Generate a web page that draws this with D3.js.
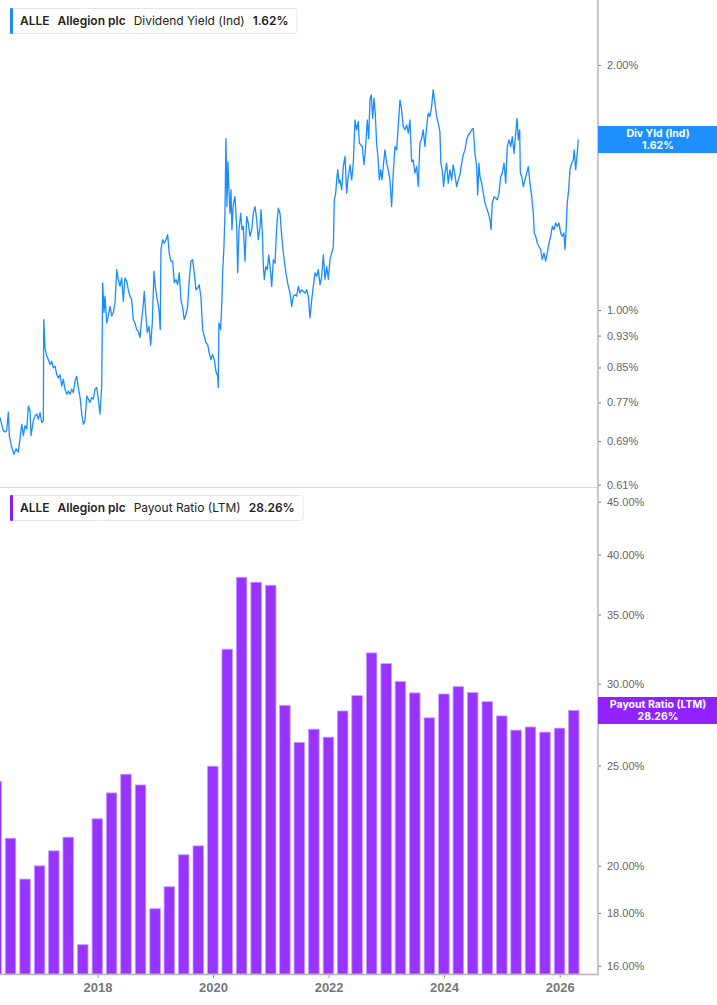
<!DOCTYPE html>
<html>
<head>
<meta charset="utf-8">
<script src="https://cdnjs.cloudflare.com/ajax/libs/d3/7.8.5/d3.min.js"></script>
<style>
  body { margin: 0; background: #fff; }
  svg { display: block; font-family: Inter, "Noto Sans", sans-serif; }
</style>
</head>
<body>
<svg id="chart"></svg>
<script>
// Dividend yield (Ind), % -- dates as decimal years
const yldYears = [
  2016.313, 2016.342, 2016.370, 2016.400, 2016.429, 2016.457, 2016.474, 2016.515, 2016.555, 2016.590,
  2016.630, 2016.659, 2016.689, 2016.716, 2016.746, 2016.775, 2016.803, 2016.832, 2016.850, 2016.889,
  2016.919, 2016.948, 2016.976, 2017.005, 2017.035, 2017.062, 2017.069, 2017.092, 2017.121, 2017.149,
  2017.178, 2017.208, 2017.235, 2017.265, 2017.294, 2017.322, 2017.351, 2017.381, 2017.408, 2017.438,
  2017.467, 2017.495, 2017.524, 2017.554, 2017.582, 2017.611, 2017.640, 2017.668, 2017.698, 2017.727,
  2017.755, 2017.784, 2017.814, 2017.841, 2017.871, 2017.900, 2017.928, 2017.957, 2017.987, 2018.014,
  2018.044, 2018.073, 2018.090, 2018.113, 2018.130, 2018.160, 2018.187, 2018.217, 2018.246, 2018.274,
  2018.303, 2018.333, 2018.360, 2018.390, 2018.419, 2018.447, 2018.476, 2018.506, 2018.533, 2018.563,
  2018.592, 2018.620, 2018.649, 2018.679, 2018.706, 2018.736, 2018.765, 2018.793, 2018.810, 2018.835,
  2018.862, 2018.892, 2018.921, 2018.949, 2018.978, 2019.008, 2019.035, 2019.065, 2019.087, 2019.099,
  2019.129, 2019.157, 2019.186, 2019.215, 2019.243, 2019.272, 2019.302, 2019.330, 2019.359, 2019.388,
  2019.416, 2019.445, 2019.475, 2019.503, 2019.532, 2019.561, 2019.589, 2019.619, 2019.648, 2019.676,
  2019.705, 2019.735, 2019.762, 2019.792, 2019.821, 2019.849, 2019.878, 2019.908, 2019.935, 2019.965,
  2019.994, 2020.022, 2020.051, 2020.081, 2020.091, 2020.103, 2020.133, 2020.155, 2020.167, 2020.190,
  2020.207, 2020.224, 2020.242, 2020.259, 2020.276, 2020.294, 2020.311, 2020.328, 2020.351, 2020.380,
  2020.410, 2020.427, 2020.449, 2020.479, 2020.501, 2020.524, 2020.553, 2020.583, 2020.610, 2020.640,
  2020.669, 2020.697, 2020.726, 2020.756, 2020.783, 2020.813, 2020.830, 2020.853, 2020.870, 2020.887,
  2020.911, 2020.939, 2020.963, 2020.986, 2021.015, 2021.043, 2021.072, 2021.102, 2021.129, 2021.159,
  2021.188, 2021.216, 2021.245, 2021.275, 2021.303, 2021.332, 2021.361, 2021.389, 2021.419, 2021.448,
  2021.476, 2021.505, 2021.534, 2021.562, 2021.591, 2021.621, 2021.649, 2021.678, 2021.708, 2021.735,
  2021.765, 2021.794, 2021.822, 2021.851, 2021.881, 2021.909, 2021.938, 2021.967, 2021.995, 2022.024,
  2022.054, 2022.082, 2022.099, 2022.123, 2022.140, 2022.158, 2022.180, 2022.197, 2022.227, 2022.255,
  2022.284, 2022.313, 2022.341, 2022.371, 2022.400, 2022.428, 2022.457, 2022.486, 2022.514, 2022.532,
  2022.556, 2022.583, 2022.613, 2022.642, 2022.670, 2022.694, 2022.717, 2022.739, 2022.763, 2022.786,
  2022.808, 2022.833, 2022.855, 2022.878, 2022.902, 2022.924, 2022.947, 2022.976, 2023.006, 2023.033,
  2023.063, 2023.092, 2023.120, 2023.149, 2023.179, 2023.206, 2023.236, 2023.265, 2023.293, 2023.322,
  2023.352, 2023.380, 2023.409, 2023.438, 2023.466, 2023.495, 2023.525, 2023.553, 2023.582, 2023.611,
  2023.639, 2023.669, 2023.698, 2023.726, 2023.755, 2023.784, 2023.812, 2023.842, 2023.871, 2023.899,
  2023.928, 2023.945, 2023.968, 2023.992, 2024.015, 2024.044, 2024.072, 2024.101, 2024.131, 2024.158,
  2024.188, 2024.217, 2024.245, 2024.274, 2024.304, 2024.331, 2024.361, 2024.390, 2024.418, 2024.447,
  2024.477, 2024.504, 2024.534, 2024.563, 2024.580, 2024.603, 2024.620, 2024.650, 2024.677, 2024.707,
  2024.736, 2024.764, 2024.793, 2024.811, 2024.833, 2024.863, 2024.892, 2024.920, 2024.949, 2024.979,
  2025.006, 2025.036, 2025.065, 2025.093, 2025.122, 2025.152, 2025.179, 2025.209, 2025.238, 2025.261,
  2025.283, 2025.307, 2025.318, 2025.342, 2025.370, 2025.399, 2025.429, 2025.456, 2025.486, 2025.515,
  2025.543, 2025.560, 2025.584, 2025.612, 2025.641, 2025.671, 2025.698, 2025.728, 2025.757, 2025.785,
  2025.815, 2025.844, 2025.872, 2025.901, 2025.931, 2025.958, 2025.988, 2026.017, 2026.045, 2026.074,
  2026.091, 2026.109, 2026.131, 2026.155, 2026.178, 2026.207, 2026.235, 2026.252, 2026.277, 2026.299,
  2026.322
];
const yldValues = [
  0.738, 0.724, 0.711, 0.708, 0.711, 0.749, 0.701, 0.678, 0.665, 0.675,
  0.669, 0.694, 0.724, 0.701, 0.721, 0.714, 0.762, 0.752, 0.701, 0.731,
  0.741, 0.745, 0.734, 0.748, 0.727, 0.731, 0.973, 0.897, 0.878, 0.869,
  0.857, 0.865, 0.849, 0.853, 0.833, 0.825, 0.833, 0.806, 0.822, 0.799,
  0.788, 0.795, 0.788, 0.799, 0.792, 0.818, 0.829, 0.803, 0.781, 0.745,
  0.724, 0.731, 0.784, 0.777, 0.770, 0.781, 0.777, 0.799, 0.803, 0.777,
  0.745, 0.806, 1.080, 0.993, 1.040, 0.964, 0.983, 1.010, 0.983, 0.992,
  1.020, 1.121, 1.090, 1.069, 1.095, 1.025, 1.095, 1.085, 1.059, 1.040,
  1.030, 0.973, 0.964, 0.946, 0.942, 0.925, 0.973, 1.015, 1.054, 0.992,
  0.938, 0.955, 0.905, 0.964, 1.116, 1.059, 1.030, 1.001, 0.946, 1.186,
  1.220, 1.208, 1.220, 1.237, 1.175, 1.148, 1.148, 1.080, 1.090, 1.074,
  1.111, 1.030, 1.006, 0.973, 0.987, 1.010, 1.090, 1.148, 1.153, 1.111,
  1.059, 1.064, 1.074, 1.035, 0.946, 0.929, 0.912, 0.907, 0.886, 0.869,
  0.882, 0.869, 0.841, 0.829, 0.803, 0.964, 0.946, 1.030, 1.111, 1.197,
  1.315, 1.624, 1.340, 1.521, 1.405, 1.315, 1.405, 1.255, 1.347, 1.378,
  1.267, 1.111, 1.255, 1.315, 1.255, 1.267, 1.148, 1.303, 1.279, 1.232,
  1.255, 1.315, 1.340, 1.291, 1.220, 1.267, 1.328, 1.243, 1.131, 1.090,
  1.131, 1.121, 1.169, 1.131, 1.069, 1.153, 1.142, 1.267, 1.334, 1.315,
  1.232, 1.175, 1.131, 1.095, 1.069, 1.049, 1.010, 1.040, 1.044, 1.040,
  1.069, 1.049, 1.059, 1.054, 1.049, 1.059, 1.040, 0.978, 1.030, 1.069,
  1.111, 1.100, 1.121, 1.074, 1.100, 1.169, 1.090, 1.131, 1.090, 1.153,
  1.175, 1.197, 1.366, 1.392, 1.445, 1.487, 1.432, 1.445, 1.405, 1.501,
  1.544, 1.392, 1.459, 1.508, 1.445, 1.515, 1.712, 1.665, 1.705, 1.604,
  1.596, 1.588, 1.508, 1.588, 1.712, 1.624, 1.812, 1.838, 1.720, 1.821,
  1.745, 1.596, 1.544, 1.445, 1.487, 1.445, 1.501, 1.573, 1.515, 1.487,
  1.445, 1.340, 1.473, 1.588, 1.573, 1.680, 1.812, 1.761, 1.680, 1.665,
  1.688, 1.649, 1.712, 1.521, 1.529, 1.473, 1.501, 1.418, 1.604, 1.624,
  1.665, 1.588, 1.680, 1.745, 1.729, 1.778, 1.864, 1.795, 1.729, 1.697,
  1.656, 1.515, 1.487, 1.418, 1.473, 1.515, 1.432, 1.487, 1.445, 1.508,
  1.466, 1.418, 1.445, 1.466, 1.515, 1.551, 1.573, 1.618, 1.641, 1.649,
  1.665, 1.672, 1.558, 1.501, 1.385, 1.515, 1.459, 1.432, 1.392, 1.354,
  1.334, 1.315, 1.291, 1.255, 1.354, 1.378, 1.372, 1.366, 1.392, 1.459,
  1.473, 1.515, 1.432, 1.588, 1.618, 1.588, 1.633, 1.558, 1.649, 1.720,
  1.618, 1.665, 1.473, 1.459, 1.418, 1.445, 1.473, 1.501, 1.432, 1.378,
  1.315, 1.243, 1.232, 1.208, 1.197, 1.186, 1.153, 1.175, 1.148, 1.175,
  1.208, 1.232, 1.267, 1.255, 1.279, 1.267, 1.279, 1.243, 1.232, 1.243,
  1.186, 1.243, 1.354, 1.405, 1.487, 1.515, 1.529, 1.573, 1.487, 1.544,
  1.620
];

// Payout ratio (LTM), % -- quarter ends
const payoutQuarters = [
  "2016-03-31", "2016-06-30", "2016-09-30", "2016-12-31",
  "2017-03-31", "2017-06-30", "2017-09-30", "2017-12-31",
  "2018-03-31", "2018-06-30", "2018-09-30", "2018-12-31",
  "2019-03-31", "2019-06-30", "2019-09-30", "2019-12-31",
  "2020-03-31", "2020-06-30", "2020-09-30", "2020-12-31",
  "2021-03-31", "2021-06-30", "2021-09-30", "2021-12-31",
  "2022-03-31", "2022-06-30", "2022-09-30", "2022-12-31",
  "2023-03-31", "2023-06-30", "2023-09-30", "2023-12-31",
  "2024-03-31", "2024-06-30", "2024-09-30", "2024-12-31",
  "2025-03-31", "2025-06-30", "2025-09-30", "2025-12-31",
  "2026-03-31"
];
const payoutValues = [
  24.12, 21.26, 19.41, 19.99,
  20.67, 21.31, 16.77, 22.20,
  23.52, 24.52, 23.94, 18.17,
  19.08, 20.49, 20.90, 24.96,
  32.40, 38.03, 37.61, 37.36,
  28.59, 26.32, 27.11, 26.63,
  28.23, 29.21, 32.13, 31.37,
  30.14, 29.39, 27.80, 29.32,
  29.80, 29.41, 28.82, 27.92,
  27.05, 27.24, 26.93, 27.17,
  28.26
];

const yldTicks = [0.61, 0.69, 0.77, 0.85, 0.93, 1.00, 2.00];
const payoutTicks = [16, 18, 20, 25, 30, 35, 40, 45];
const yearTicks = [2018, 2020, 2022, 2024, 2026];
const lastYld = 1.62;
const lastPayout = 28.26;

const w = 717, h = 1005;
const axisX = 598;
const blue = '#1a8cff', purple = '#9933ff';

const svg = d3.select('#chart')
    .attr('width', w)
    .attr('height', h);

const parseDay = d3.timeParse('%Y-%m-%d');
const fromYear = t => {
    let y = Math.floor(t);
    let a = new Date(y, 0, 1), b = new Date(y + 1, 0, 1);
    return new Date(+a + (t - y) * (b - a));
};

let yld = yldYears.map((t, i) => ({date: fromYear(t), v: yldValues[i]}));
let payout = payoutQuarters.map((q, i) => ({date: parseDay(q), v: payoutValues[i]}));

let xScale = d3.scaleTime()
    .domain([new Date(2018, 0, 1), new Date(2026, 0, 1)])
    .range([97.5, 559.7]);

let yTop = d3.scaleLog()
    .domain([0.606, 2.404])
    .range([487, 0]);

let yBot = d3.scaleLog()
    .domain([15.71, 46.5])
    .range([974, 487]);

//panel separator
svg.append('line')
    .attr('x1', 0).attr('x2', axisX)
    .attr('y1', 487.5).attr('y2', 487.5)
    .attr('stroke', '#dcdcdc');

//payout bars
let barW = 10.5;
svg.append('g')
    .selectAll('rect')
    .data(payout)
    .enter()
    .append('rect')
    .attr('x', d => xScale(d.date) - barW / 2)
    .attr('y', d => yBot(d.v))
    .attr('width', barW)
    .attr('height', d => yBot.range()[0] - yBot(d.v))
    .attr('fill', purple)
    .attr('stroke', '#c79cff')
    .attr('stroke-width', 0.8);

//dividend yield line
let line = d3.line()
    .x(d => xScale(d.date))
    .y(d => yTop(d.v));

svg.append('path')
    .datum(yld)
    .attr('d', line)
    .attr('fill', 'none')
    .attr('stroke', blue)
    .attr('stroke-width', 1.3)
    .attr('stroke-linejoin', 'round');

//right axes
let pct = d => d.toFixed(2) + '%';

let topAxis = svg.append('g')
    .attr('transform', 'translate(' + axisX + ',0)')
    .call(d3.axisRight(yTop).tickValues(yldTicks).tickFormat(pct).tickSize(3).tickPadding(6));

let botAxis = svg.append('g')
    .attr('transform', 'translate(' + axisX + ',0)')
    .call(d3.axisRight(yBot).tickValues(payoutTicks).tickFormat(pct).tickSize(3).tickPadding(6));

[topAxis, botAxis].forEach(a => {
    a.select('.domain').remove();
    a.selectAll('line').attr('stroke', '#777');
    a.selectAll('text')
        .attr('fill', '#666')
        .style('font-size', '11px');
});

//x-axis
let xAxis = svg.append('g')
    .attr('transform', 'translate(0,974)')
    .call(d3.axisBottom(xScale)
        .tickValues(yearTicks.map(y => new Date(y, 0, 1)))
        .tickFormat(d3.timeFormat('%Y'))
        .tickSize(4)
        .tickPadding(5));
xAxis.select('.domain').remove();
xAxis.selectAll('line').attr('stroke', '#999');
xAxis.selectAll('text')
    .attr('fill', '#777')
    .style('font-size', '13px')
    .style('font-weight', 'bold');

//axis frame
svg.append('line')
    .attr('x1', 0).attr('x2', axisX + 1)
    .attr('y1', 974.5).attr('y2', 974.5)
    .attr('stroke', '#b5b5b5')
    .attr('stroke-width', 1.5);
svg.append('line')
    .attr('x1', axisX).attr('x2', axisX)
    .attr('y1', 0).attr('y2', 975)
    .attr('stroke', '#b5b5b5')
    .attr('stroke-width', 1.5);

//last value tags
function tag(y, color, lines) {
    let g = svg.append('g').attr('transform', 'translate(' + axisX + ',' + (y - 13.5) + ')');
    g.append('rect')
        .attr('width', w - axisX)
        .attr('height', 27)
        .attr('fill', color);
    g.selectAll('text')
        .data(lines)
        .enter()
        .append('text')
        .attr('x', (w - axisX) / 2 + 0.5)
        .attr('y', (d, i) => 11.5 + i * 11.5)
        .style('text-anchor', 'middle')
        .style('font-size', '10.5px')
        .style('font-weight', 'bold')
        .attr('fill', '#fff')
        .text(d => d);
}
tag(yTop(lastYld), '#1e8fff', ['Div Yld (Ind)', pct(lastYld)]);
tag(yBot(lastPayout), '#8f22ff', ['Payout Ratio (LTM)', pct(lastPayout)]);

//legends
function legend(y, color, parts) {
    let g = svg.append('g').attr('transform', 'translate(10,' + y + ')');
    let box = g.append('rect')
        .attr('x', 0.5).attr('y', 0.5)
        .attr('height', 25)
        .attr('rx', 3)
        .attr('fill', '#fff')
        .attr('stroke', '#e6e6e6');
    g.append('rect')
        .attr('x', 0).attr('y', 0)
        .attr('width', 3).attr('height', 26)
        .attr('rx', 1)
        .attr('fill', color);
    let cx = 10;
    parts.forEach(p => {
        let t = g.append('text')
            .attr('x', cx)
            .attr('y', 17)
            .attr('fill', '#222')
            .style('font-size', '12px')
            .style('font-weight', p.bold ? 600 : 'normal')
            .text(p.t);
        cx += t.node().getComputedTextLength() + 8;
    });
    box.attr('width', cx);
}
legend(8, blue, [
    {t: 'ALLE', bold: true},
    {t: 'Allegion plc', bold: true},
    {t: 'Dividend Yield (Ind)', bold: false},
    {t: pct(lastYld), bold: true}
]);
legend(495, '#8a1cff', [
    {t: 'ALLE', bold: true},
    {t: 'Allegion plc', bold: true},
    {t: 'Payout Ratio (LTM)', bold: false},
    {t: pct(lastPayout), bold: true}
]);
</script>
</body>
</html>
